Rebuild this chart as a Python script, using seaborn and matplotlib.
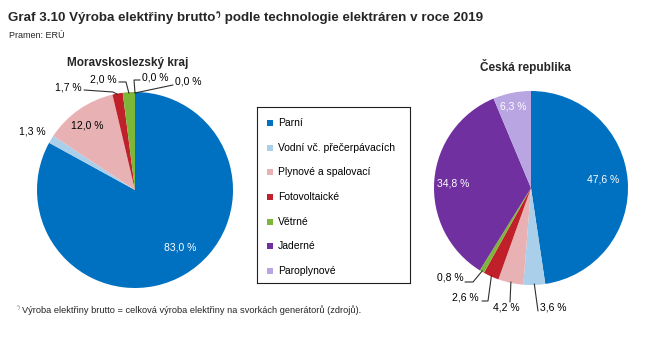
import matplotlib
matplotlib.use("Agg")
import matplotlib.pyplot as plt
import numpy as np
import pandas as pd
import seaborn as sns

# ---------------- data ----------------
categories = ["Parní", "Vodní vč. přečerpávacích", "Plynové a spalovací",
              "Fotovoltaické", "Větrné", "Jaderné", "Paroplynové"]
msk_values = [83.0, 1.3, 12.0, 1.7, 2.0, 0.0, 0.0]   # Moravskoslezský kraj
cr_values = [47.6, 3.6, 4.2, 2.6, 0.8, 34.8, 6.3]    # Česká republika
colors = ["#0070C0", "#A9CFEA", "#E8B2B5", "#C0202A", "#7DB73A", "#7030A0", "#B9A5E2"]

df = pd.DataFrame({"kategorie": categories, "MSK": msk_values, "CR": cr_values})

sns.set_theme(style="white")
plt.rcParams["font.family"] = ["Liberation Sans", "DejaVu Sans"]
palette = sns.color_palette(colors)

W, H = 657, 337
fig = plt.figure(figsize=(W / 100, H / 100), dpi=100)
fig.patch.set_facecolor("white")


def fx(x):
    return x / W


def fy(y):
    return 1 - y / H


def fmt(v):
    return f"{v:.1f}".replace(".", ",") + " %"


def draw_pie(cx, cy, r, values, layout):
    ax = fig.add_axes([fx(cx - r), fy(cy + r), 2 * r / W, 2 * r / H])
    wedges, _ = ax.pie(values, colors=palette, startangle=90, counterclock=False,
                       wedgeprops=dict(linewidth=0))
    ax.set_xlim(-1, 1)
    ax.set_ylim(-1, 1)
    ax.set_aspect("equal")
    ax.axis("off")
    for w, v, (lx, ly, col, leader) in zip(wedges, values, layout):
        ax.text((lx - cx) / r, (cy - ly) / r, fmt(v), ha="center", va="center",
                color=col, fontsize=7.5)
        if leader is not None:
            mid = np.deg2rad((w.theta1 + w.theta2) / 2)
            pts = [((px - cx) / r, (cy - py) / r) for px, py in leader]
            pts.append((np.cos(mid) * 0.99, np.sin(mid) * 0.99))
            xs, ys = zip(*pts)
            ax.plot(xs, ys, color="#303030", lw=0.8, clip_on=False,
                    solid_joinstyle="miter")
    return ax


# label layout (pixel positions) : x, y, colour, leader path
msk_layout = [
    (180, 247, "white", None),
    (32, 131, "black", None),
    (87, 126, "black", None),
    (68, 88, "black", [(84, 90), (113, 92)]),
    (103, 79, "black", [(119, 82), (126, 82)]),
    (155, 77, "black", [(140, 80), (134, 80)]),
    (188, 81, "black", [(173, 85)]),
]
cr_layout = [
    (603, 179, "white", None),
    (553, 308, "black", [(538, 311)]),
    (506, 308, "black", [(510, 302)]),
    (465, 297, "black", [(482, 301), (488, 301)]),
    (450, 278, "black", [(465, 282), (473, 282)]),
    (453, 183, "white", None),
    (513, 106, "white", None),
]

draw_pie(135, 190, 98, df["MSK"].tolist(), msk_layout)
draw_pie(531, 188, 97, df["CR"].tolist(), cr_layout)

# pie titles
fig.text(fx(128), fy(66), "Moravskoslezský kraj", ha="center", va="baseline",
         fontsize=8.5, fontweight="bold")
fig.text(fx(525), fy(71.5), "Česká republika", ha="center", va="baseline",
         fontsize=8.5, fontweight="bold")

# legend box
ax_leg = fig.add_axes([fx(257), fy(283), 153 / W, 176 / H])
ax_leg.set_xlim(0, 1)
ax_leg.set_ylim(0, 1)
ax_leg.set_xticks([])
ax_leg.set_yticks([])
for s in ax_leg.spines.values():
    s.set_visible(True)
    s.set_color("#202020")
    s.set_linewidth(0.8)
for i, cat in enumerate(df["kategorie"]):
    yy = 1 - (0.091 + i * 0.1402)
    ax_leg.scatter([0.085], [yy], marker="s", s=14, color=palette[i], linewidths=0)
    ax_leg.text(0.137, yy, cat, va="center", ha="left", fontsize=7.5, color="black")

# main title with superscript
renderer = fig.canvas.get_renderer()
t1 = fig.text(fx(8), fy(20.7), "Graf 3.10 Výroba elektřiny brutto", ha="left",
              va="baseline", fontsize=9.6, fontweight="bold")
bb = t1.get_window_extent(renderer)
x1 = bb.x1 / fig.dpi / fig.get_figwidth()
t2 = fig.text(x1 + 0.5 / W, fy(16.2), "*)", ha="left", va="baseline",
              fontsize=5.5, fontweight="bold")
bb2 = t2.get_window_extent(renderer)
x2 = bb2.x1 / fig.dpi / fig.get_figwidth()
fig.text(x2, fy(20.7), " podle technologie elektráren v roce 2019", ha="left",
         va="baseline", fontsize=9.6, fontweight="bold")

fig.text(fx(9), fy(37.7), "Pramen: ERÚ", ha="left", va="baseline", fontsize=6.5)

# footnote
fig.text(fx(16.5), fy(309.5), "*)", ha="left", va="baseline", fontsize=4, color="#808080")
fig.text(fx(22), fy(313), "Výroba elektřiny brutto = celková výroba elektřiny na svorkách generátorů (zdrojů).",
         ha="left", va="baseline", fontsize=6.7)

fig.savefig("out.png", dpi=100, facecolor="white")
